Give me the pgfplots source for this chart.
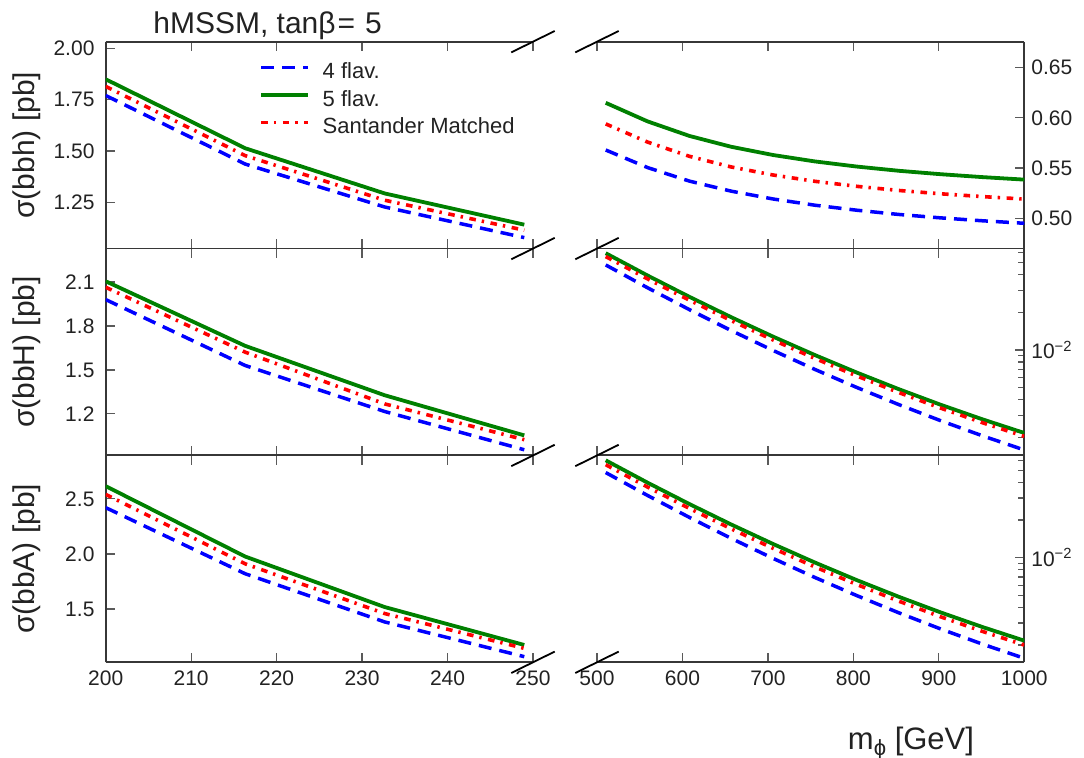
\documentclass[border=0pt]{standalone}
\usepackage{fontspec}
\setmainfont{Liberation Sans}
\usepackage{graphicx}
\usepackage{pgfplots}
\usetikzlibrary{calc}
\pgfplotsset{compat=1.18}
\definecolor{mgreen}{RGB}{0,128,0}
\definecolor{spine}{RGB}{55,55,55}
\definecolor{tickc}{RGB}{90,90,90}
\definecolor{txt}{RGB}{34,34,34}
\pgfplotsset{
  b4/.style={color=blue, line width=1.75pt, dash pattern=on 6.5pt off 4pt},
  g5/.style={color=mgreen, line width=1.9pt},
  rs/.style={color=red, line width=1.8pt, dash pattern=on 3.3pt off 3pt on 1.2pt off 3.3pt},
  base/.style={scale only axis, width=213.65pt, height=103.45pt, anchor=south west,
    separate axis lines, axis x line=box,
    axis line style={line width=0.9pt, draw=spine, -},
    tick align=inside, major tick length=4.7pt, minor tick length=3.3pt,
    tick style={line width=0.6pt, color=tickc},
    ticklabel style={font=\fontsize{10.5}{12}\selectfont, text=txt},
    xticklabel style={yshift=-0.5pt},
    ylabel style={at={(axis description cs:-0.185,0.5)}, anchor=center, font=\fontsize{15}{18}\selectfont, text=txt},
    no markers},
  leftax/.style={base, axis y line=left, axis line style={-}, tick align=inside,
    xmin=200, xmax=250, xtick={200,210,220,230,240,250},
    yticklabel style={xshift=-2.1pt}},
  rightax/.style={base, axis y line=right, axis line style={-}, tick align=inside,
    xmin=500, xmax=1000, xtick={500,600,700,800,900,1000}},
}
\begin{document}
\begin{tikzpicture}
\useasboundingbox (0,0) rectangle (542pt,379pt);
% ---------- top left: bbh
\begin{axis}[leftax, at={(52.85pt,254.7pt)}, xticklabels={},
  ymin=1.0245, ymax=2.032, ytick={1.25,1.5,1.75,2.0}, yticklabels={1.25,1.50,1.75,2.00},
  ylabel={σ(bbh) [pb]},
  legend style={draw=none, fill=none, at={(0.3595,0.897)}, anchor=north west,
    inner sep=0pt, outer sep=0pt, row sep=3.25pt, column sep=6.3pt,
    font=\fontsize{11}{13}\selectfont, text=txt,
    nodes={inner sep=0pt, text height=8pt, text depth=2.5pt}},
  legend cell align=left,
  legend image code/.code={\draw[#1] (0pt,0.3em) -- (23.5pt,0.3em);}]
\addplot[b4] coordinates {(200,1.770) (216.33,1.436) (232.65,1.227) (248.98,1.078)};
\addplot[g5] coordinates {(200,1.849) (216.33,1.513) (232.65,1.293) (248.98,1.141)};
\addplot[rs] coordinates {(200,1.814) (216.33,1.477) (232.65,1.260) (248.98,1.114)};
\legend{4 flav.,5 flav.,Santander Matched}
\end{axis}
% ---------- top right: bbh
\begin{axis}[rightax, at={(298.5pt,254.7pt)}, xticklabels={},
  ymin=0.4698, ymax=0.6759, ytick={0.50,0.55,0.60,0.65}, yticklabels={0.50,0.55,0.60,0.65}]
\addplot[b4] coordinates {(510.2,0.5680) (559.2,0.5505) (608.2,0.5370) (657.1,0.5270) (706.1,0.5192) (755.1,0.5130) (804.1,0.5080) (853.1,0.5038) (902.0,0.5004) (951.0,0.4975) (1000,0.4950)};
\addplot[g5] coordinates {(510.2,0.6150) (559.2,0.5965) (608.2,0.5820) (657.1,0.5712) (706.1,0.5630) (755.1,0.5566) (804.1,0.5515) (853.1,0.5473) (902.0,0.5439) (951.0,0.5410) (1000,0.5385)};
\addplot[rs] coordinates {(510.2,0.5940) (559.2,0.5759) (608.2,0.5617) (657.1,0.5511) (706.1,0.5431) (755.1,0.5368) (804.1,0.5318) (853.1,0.5277) (902.0,0.5244) (951.0,0.5216) (1000,0.5191)};
\end{axis}
% ---------- middle left: bbH
\begin{axis}[leftax, at={(52.85pt,151.25pt)}, xticklabels={},
  ymin=0.916, ymax=2.328, ytick={1.2,1.5,1.8,2.1}, yticklabels={1.2,1.5,1.8,2.1},
  ylabel={σ(bbH) [pb]}]
\addplot[b4] coordinates {(200,1.980) (216.33,1.530) (232.65,1.216) (248.98,0.955)};
\addplot[g5] coordinates {(200,2.105) (216.33,1.664) (232.65,1.327) (248.98,1.053)};
\addplot[rs] coordinates {(200,2.064) (216.33,1.621) (232.65,1.268) (248.98,1.024)};
\end{axis}
% ---------- middle right: bbH (log)
\begin{axis}[rightax, at={(298.5pt,151.25pt)}, xticklabels={}, ymode=log,
  ymin=0.001432, ymax=0.0647, ytick={0.01}, yticklabels={10\textsuperscript{−2}},
  minor ytick={0.002,0.003,0.004,0.005,0.006,0.007,0.008,0.009,0.02,0.03,0.04,0.05,0.06}]
\addplot[b4] coordinates {(510.2,0.04787) (559.2,0.03143) (608.2,0.02101) (657.1,0.01430) (706.1,0.009903) (755.1,0.006981) (804.1,0.005008) (853.1,0.003657) (902.0,0.002720) (951.0,0.002058) (1000,0.001585)};
\addplot[g5] coordinates {(510.2,0.05943) (559.2,0.03940) (608.2,0.02659) (657.1,0.01828) (706.1,0.01278) (755.1,0.009097) (804.1,0.006590) (853.1,0.004859) (902.0,0.003649) (951.0,0.002788) (1000,0.002168)};
\addplot[rs] coordinates {(510.2,0.05585) (559.2,0.03702) (608.2,0.02499) (657.1,0.01718) (706.1,0.01201) (755.1,0.008549) (804.1,0.006193) (853.1,0.004566) (902.0,0.003429) (951.0,0.002620) (1000,0.002037)};
\end{axis}
% ---------- bottom left: bbA
\begin{axis}[leftax, at={(52.85pt,47.85pt)},
  xticklabels={200,210,220,230,240,250},
  ymin=1.017, ymax=2.894, ytick={1.5,2.0,2.5}, yticklabels={1.5,2.0,2.5},
  ylabel={σ(bbA) [pb]}]
\addplot[b4] coordinates {(200,2.420) (216.33,1.820) (232.65,1.383) (248.98,1.068)};
\addplot[g5] coordinates {(200,2.615) (216.33,1.976) (232.65,1.518) (248.98,1.174)};
\addplot[rs] coordinates {(200,2.540) (216.33,1.910) (232.65,1.459) (248.98,1.143)};
\end{axis}
% ---------- bottom right: bbA (log)
\begin{axis}[rightax, at={(298.5pt,47.85pt)}, ymode=log,
  xticklabels={500,600,700,800,900,1000},
  ymin=0.001456, ymax=0.0657, ytick={0.01}, yticklabels={10\textsuperscript{−2}},
  minor ytick={0.002,0.003,0.004,0.005,0.006,0.007,0.008,0.009,0.02,0.03,0.04,0.05,0.06}]
\addplot[b4] coordinates {(510.2,0.04788) (559.2,0.03141) (608.2,0.02097) (657.1,0.01425) (706.1,0.009856) (755.1,0.006934) (804.1,0.004967) (853.1,0.003622) (902.0,0.002691) (951.0,0.002035) (1000,0.001567)};
\addplot[g5] coordinates {(510.2,0.06000) (559.2,0.03975) (608.2,0.02680) (657.1,0.01840) (706.1,0.01285) (755.1,0.009130) (804.1,0.006605) (853.1,0.004865) (902.0,0.003650) (951.0,0.002788) (1000,0.002168)};
\addplot[rs] coordinates {(510.2,0.05536) (559.2,0.03667) (608.2,0.02473) (657.1,0.01698) (706.1,0.01186) (755.1,0.008423) (804.1,0.006094) (853.1,0.004488) (902.0,0.003367) (951.0,0.002572) (1000,0.002000)};
\end{axis}
% ---------- axis-break marks
\foreach \bx in {266.5pt,298.5pt}{
  \foreach \by in {358.15pt,254.7pt,151.25pt,47.85pt}{
    \draw[black, line width=0.9pt] ($(\bx,\by)+(-10.85pt,-5.35pt)$) -- ($(\bx,\by)+(10.85pt,5.35pt)$);
  }
}
% ---------- title and common x label
\node[anchor=base west, font=\fontsize{15}{18}\selectfont, text=txt, inner sep=0pt] at (76.5pt,362.35pt) {hMSSM, tanβ\kern1pt=\kern5pt5};
\node[anchor=base, font=\fontsize{15.5}{18}\selectfont, text=txt, inner sep=0pt] at (455.5pt,4.2pt) {m\raisebox{-0.35ex}{\fontsize{11}{12}\selectfont ϕ} [GeV]};
\end{tikzpicture}
\end{document}
